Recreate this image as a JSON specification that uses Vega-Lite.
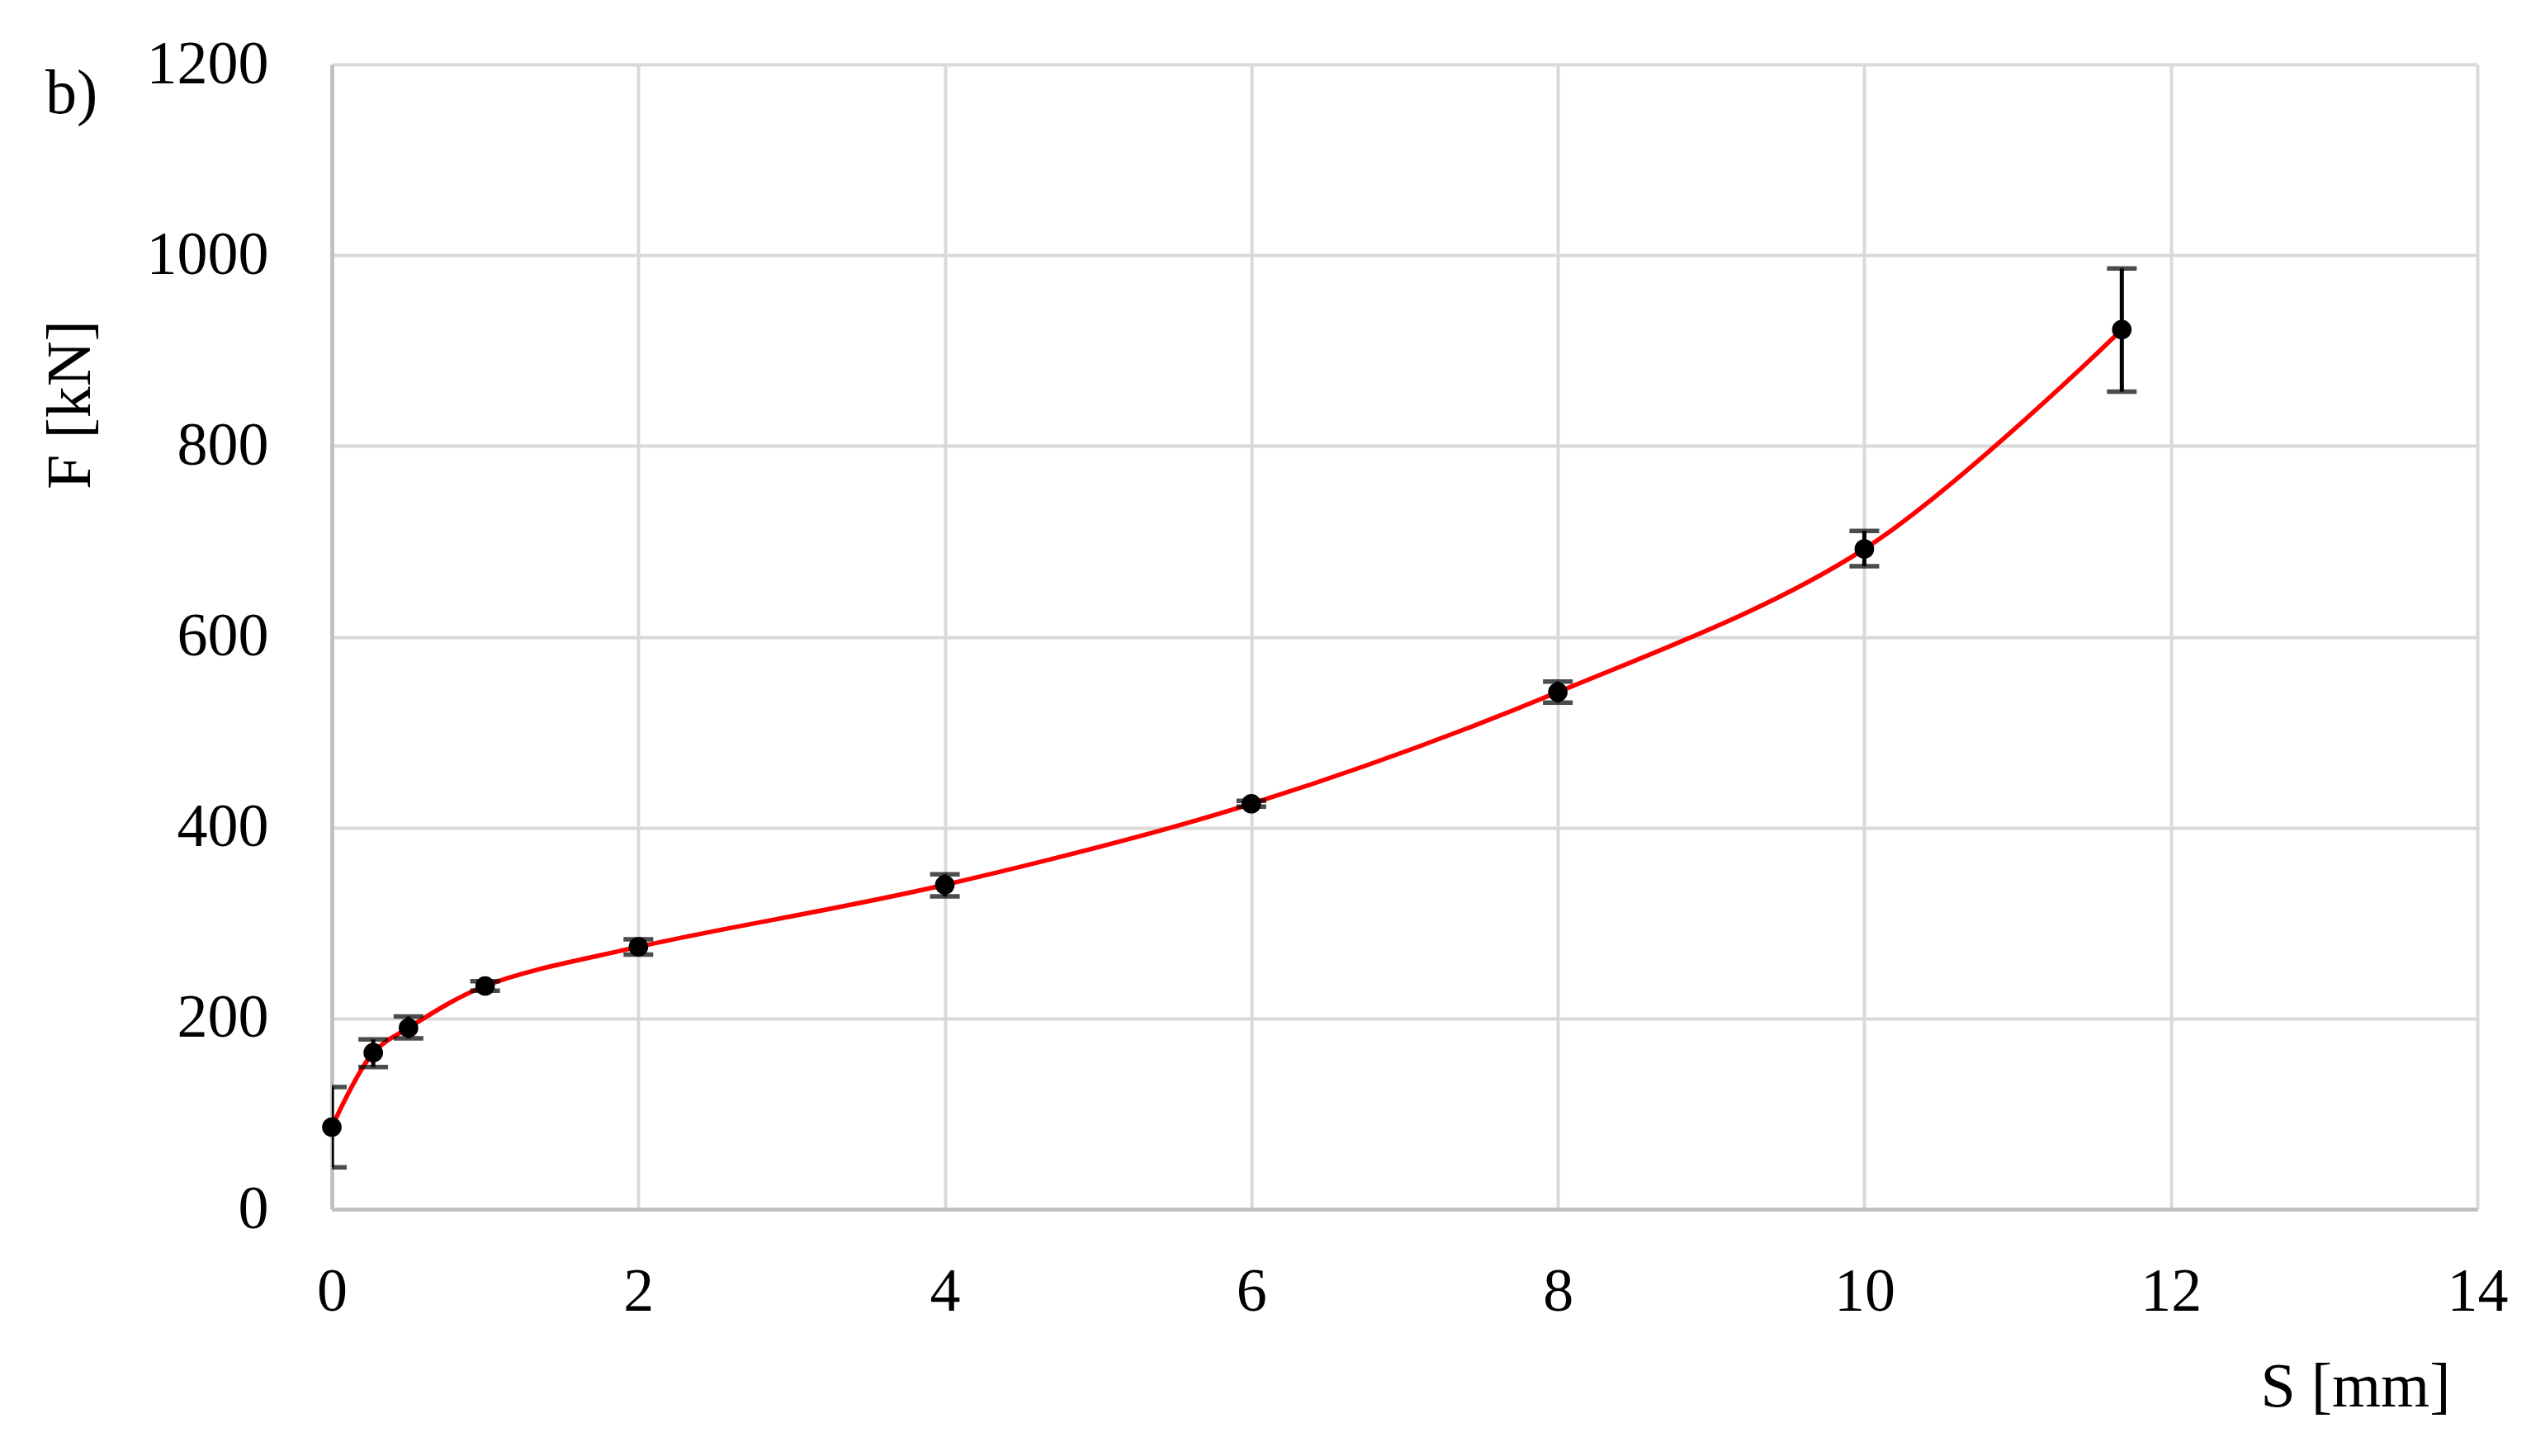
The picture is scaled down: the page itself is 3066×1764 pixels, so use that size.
{
  "$schema": "https://vega.github.io/schema/vega-lite/v6.json",
  "width": 2599,
  "height": 1387,
  "autosize": "none",
  "padding": {"left": 402, "top": 78, "right": 65, "bottom": 299},
  "background": "white",
  "title": {
    "text": "b)",
    "anchor": "start",
    "frame": "bounds",
    "font": "Liberation Serif",
    "fontSize": 76,
    "fontWeight": "normal",
    "color": "black",
    "baseline": "alphabetic",
    "offset": 0,
    "dy": 172,
    "dx": 8
  },
  "data": {
    "values": [
      {"S": 0, "F": 86, "lo": 44, "hi": 128},
      {"S": 0.27, "F": 164, "lo": 149, "hi": 178},
      {"S": 0.5, "F": 190, "lo": 179, "hi": 202},
      {"S": 1, "F": 234, "lo": 229, "hi": 239},
      {"S": 2, "F": 275, "lo": 267, "hi": 283},
      {"S": 4, "F": 340, "lo": 328, "hi": 351},
      {"S": 6, "F": 425, "lo": 422, "hi": 428},
      {"S": 8, "F": 542, "lo": 531, "hi": 553},
      {"S": 10, "F": 692, "lo": 674, "hi": 711},
      {"S": 11.68, "F": 922, "lo": 857, "hi": 986}
    ]
  },
  "encoding": {
    "x": {
      "field": "S",
      "type": "quantitative",
      "scale": {"domain": [0, 14], "nice": false, "zero": false},
      "axis": {
        "title": "S [mm]",
        "values": [0, 2, 4, 6, 8, 10, 12, 14],
        "format": "d",
        "labelFlush": false,
        "labelOverlap": false,
        "labelPadding": 64,
        "titleX": 2566,
        "titleY": 238,
        "titleAlign": "right",
        "titleAnchor": null,
        "titleBaseline": "alphabetic"
      }
    },
    "y": {
      "field": "F",
      "type": "quantitative",
      "scale": {"domain": [0, 1200], "nice": false},
      "axis": {
        "title": "F [kN]",
        "values": [0, 200, 400, 600, 800, 1000, 1200],
        "format": "d",
        "labelPadding": 77,
        "titleX": -294,
        "titleY": 412,
        "titleAngle": -90,
        "titleAlign": "center",
        "titleBaseline": "alphabetic",
        "titleAnchor": null
      }
    }
  },
  "layer": [
    {
      "mark": {"type": "line", "color": "#ff0000", "strokeWidth": 5.5, "interpolate": "catmull-rom"}
    },
    {
      "mark": {"type": "rule", "color": "black", "strokeWidth": 5, "clip": true},
      "encoding": {"y": {"field": "lo", "type": "quantitative"}, "y2": {"field": "hi"}}
    },
    {
      "mark": {"type": "tick", "orient": "horizontal", "color": "black", "size": 36, "thickness": 5.5, "clip": true},
      "encoding": {"y": {"field": "lo", "type": "quantitative"}}
    },
    {
      "mark": {"type": "tick", "orient": "horizontal", "color": "black", "size": 36, "thickness": 5.5, "clip": true},
      "encoding": {"y": {"field": "hi", "type": "quantitative"}}
    },
    {
      "mark": {"type": "circle", "color": "black", "size": 560, "opacity": 1}
    }
  ],
  "config": {
    "view": {"stroke": null},
    "axis": {
      "labelFont": "Liberation Serif",
      "labelFontSize": 74,
      "labelColor": "black",
      "titleFont": "Liberation Serif",
      "titleFontSize": 76,
      "titleFontWeight": "normal",
      "titleColor": "black",
      "tickSize": 0,
      "ticks": false,
      "grid": true,
      "gridColor": "#d9d9d9",
      "gridWidth": 4,
      "domainColor": "#bfbfbf",
      "domainWidth": 4.5
    }
  }
}
